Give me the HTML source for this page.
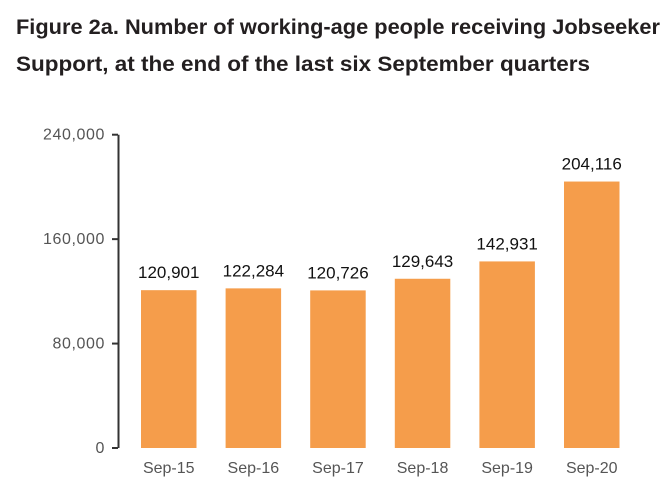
<!DOCTYPE html>
<html><head><meta charset="utf-8"><style>
body{margin:0;background:#fff;}
svg{display:block;font-family:"Liberation Sans",sans-serif;}
</style></head><body>
<svg id="chart" width="668" height="486" viewBox="0 0 668 486">
<text x="16" y="34" font-size="21" font-weight="bold" fill="#231f20" textLength="644" lengthAdjust="spacingAndGlyphs">Figure 2a. Number of working-age people receiving Jobseeker</text>
<text x="16" y="71" font-size="21" font-weight="bold" fill="#231f20" textLength="574" lengthAdjust="spacingAndGlyphs">Support, at the end of the last six September quarters</text>
<g id="plot"></g>
</svg>
<script>
const categories = ["Sep-15","Sep-16","Sep-17","Sep-18","Sep-19","Sep-20"];
const values = [120901,122284,120726,129643,142931,204116];
const valueLabels = ["120,901","122,284","120,726","129,643","142,931","204,116"];
const ticks = [0,80000,160000,240000];
const tickLabels = ["0","80,000","160,000","240,000"];

const NS="http://www.w3.org/2000/svg";
const g=document.getElementById('plot');
const y0=448, y1=134.7, vmax=240000;
const y=v=>y0-(v/vmax)*(y0-y1);
const step=84.6, barW=55.5, x0=141;
const x=i=>x0+i*step;
function mk(t,a){const e=document.createElementNS(NS,t);for(const k in a)e.setAttribute(k,a[k]);g.appendChild(e);return e;}
let ax=mk('line',{x1:118.5,x2:118.5,y1:y1,y2:y0,stroke:'#333','stroke-width':2});


ticks.forEach((t,i)=>{
  let l=mk('line',{x1:112,x2:118,y1:y(t),y2:y(t),stroke:'#333','stroke-width':2});
  
  
  let tx=mk('text',{x:105,y:y(t)+5,'text-anchor':'end','font-size':16,fill:'#555','letter-spacing':'0.6'});
  tx.textContent=tickLabels[i];
  
  
});
categories.forEach((c,i)=>{
  let r=mk('rect',{x:x(i),y:y(values[i]),width:barW,height:y0-y(values[i]),fill:'#f59d4b'});
  
  
  let v=mk('text',{x:x(i)+barW/2,y:y(values[i])-12,'text-anchor':'middle','font-size':17,fill:'#111'});
  v.textContent=valueLabels[i];
  
  
  let cl=mk('text',{x:x(i)+barW/2,y:y0+25,'text-anchor':'middle','font-size':16,fill:'#555'});
  cl.textContent=c;
  
  
});
</script>
</body></html>
